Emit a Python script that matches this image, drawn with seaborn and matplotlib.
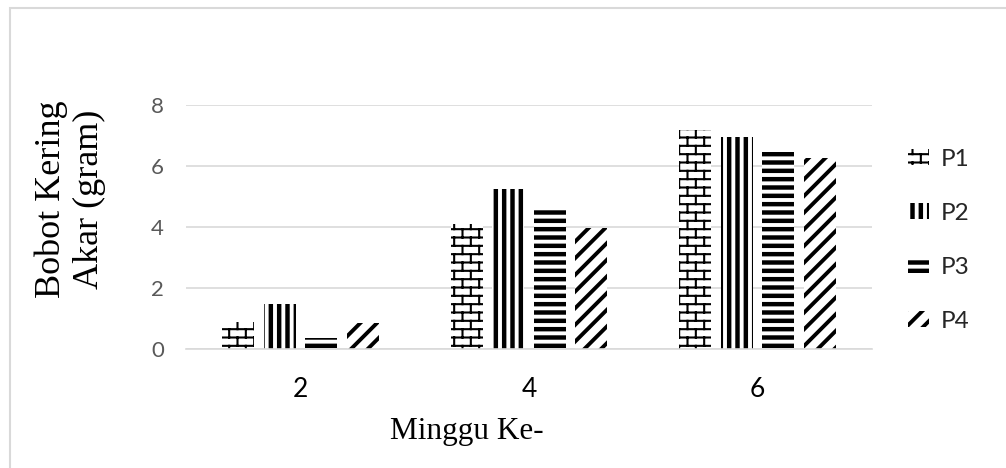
import numpy as np
import pandas as pd
import matplotlib
matplotlib.use("Agg")
import matplotlib.pyplot as plt
import matplotlib.hatch as mhatch
from matplotlib.path import Path
from matplotlib.patches import Rectangle
import seaborn as sns

# ---- data -------------------------------------------------------------
weeks = ["2", "4", "6"]
treatments = ["P1", "P2", "P3", "P4"]
p1 = [0.90, 4.11, 7.18]
p2 = [1.48, 5.26, 6.96]
p3 = [0.36, 4.55, 6.47]
p4 = [0.86, 3.98, 6.25]
yticks = [0, 2, 4, 6, 8]

df = pd.DataFrame({
    "Minggu": weeks * 4,
    "Perlakuan": np.repeat(treatments, len(weeks)),
    "Bobot": p1 + p2 + p3 + p4,
})


# ---- brick hatch (triggered by '*') ------------------------------------
class BrickHatch(mhatch.HatchPatternBase):
    def __init__(self, hatch, density):
        n = hatch.count("*")
        self.rows = 2 * n * density
        self.cols = n * density
        self.num_vertices = (2 * self.rows + 2 * (self.rows + 1) * self.cols) if n else 0

    def set_vertices_and_codes(self, vertices, codes):
        rows, cols = self.rows, self.cols
        verts = []
        for k in range(rows):
            y = (k + 0.5) / rows
            verts += [(0.0, y), (1.0, y)]
        for k in range(-1, rows):
            y0 = (k + 0.5) / rows
            y1 = (k + 1.5) / rows
            for j in range(cols):
                x = (j + 0.25 + 0.5 * (k % 2)) / cols
                verts += [(x, y0), (x, y1)]
        vertices[:] = np.array(verts)
        codes[0::2] = Path.MOVETO
        codes[1::2] = Path.LINETO


mhatch._hatch_types = [
    mhatch.HorizontalHatch,
    mhatch.VerticalHatch,
    mhatch.NorthEastHatch,
    mhatch.SouthEastHatch,
    BrickHatch,
]

hatches = {"P1": "*", "P2": "||", "P3": "--", "P4": "//"}
hatch_lw = {"P1": 1.5, "P2": 3.2, "P3": 3.2, "P4": 2.8}

# ---- figure -----------------------------------------------------------
sns.set_theme(style="white")
plt.rcParams["font.family"] = ["Lato", "DejaVu Sans"]

fig = plt.figure(figsize=(10.06, 4.68), dpi=100)
ax = fig.add_axes([0.1849, 0.2543, 0.6819, 0.5214])

sns.barplot(
    data=df, x="Minggu", y="Bobot", hue="Perlakuan",
    order=weeks, hue_order=treatments,
    palette={t: "white" for t in treatments},
    width=0.726, gap=0.23, edgecolor="black", linewidth=0,
    legend=False, ax=ax,
)

for cont, t in zip(ax.containers, treatments):
    for bar in cont:
        bar.set_hatch(hatches[t])
        if hasattr(bar, "set_hatch_linewidth"):
            bar.set_hatch_linewidth(hatch_lw[t])

ax.set_ylim(0, 8)
ax.set_yticks(yticks)
ax.set_yticklabels([str(v) for v in yticks])
ax.grid(axis="y", color="#d9d9d9", linewidth=1.2)
ax.set_axisbelow(True)
for side in ["top", "right", "left"]:
    ax.spines[side].set_visible(False)
ax.spines["bottom"].set_color("#d9d9d9")
ax.spines["bottom"].set_linewidth(1.2)
ax.tick_params(axis="y", length=0, pad=16, labelsize=16, labelcolor="#595959")
ax.tick_params(axis="x", length=0, pad=20, labelsize=19, labelcolor="#000000")
ax.set_xlabel("")
ax.set_ylabel("")

serif = ["Liberation Serif", "DejaVu Serif"]
fig.text(0.0696, 0.575, "Bobot Kering\nAkar (gram)", rotation=90,
         ha="center", va="center", multialignment="center",
         fontsize=26, family=serif, color="black", linespacing=1.2)
fig.text(0.464, 0.077, "Minggu Ke-", ha="center", va="center",
         fontsize=22.5, family=serif, color="black")

# legend built from the bar containers so each key carries its hatch
leg = ax.legend(
    handles=list(ax.containers), labels=treatments,
    loc="center left", bbox_to_anchor=(0.9026, 0.487),
    bbox_transform=fig.transFigure, frameon=False, fontsize=17.5,
    handlelength=0.85, handleheight=0.6, handletextpad=0.5,
    labelspacing=1.36, borderpad=0, borderaxespad=0,
)
for h, t in zip(leg.legend_handles, treatments):
    if hasattr(h, "set_hatch_linewidth"):
        h.set_hatch_linewidth(hatch_lw[t])

# thin frame around the chart area
fig.add_artist(Rectangle((0.0099, -0.2), 1.2, 1.1829, transform=fig.transFigure,
                         fill=False, edgecolor="#d9d9d9", linewidth=1.5))

fig.savefig("out.png", dpi=100)
